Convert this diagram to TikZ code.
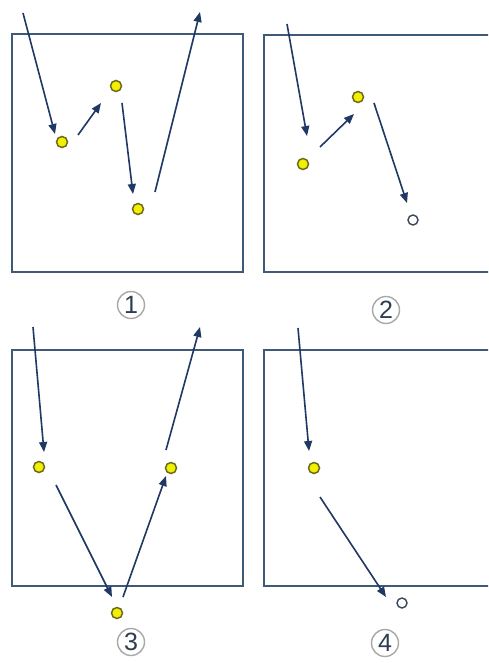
\documentclass[tikz,border=0pt]{standalone}
\usepackage{fontspec}
\setmainfont{Liberation Sans}
\usetikzlibrary{arrows.meta}
\definecolor{boxc}{HTML}{3E5A78}
\definecolor{arrc}{HTML}{1F3864}
\definecolor{dotfill}{HTML}{F0F000}
\definecolor{dotline}{HTML}{6E6A1E}
\definecolor{holline}{HTML}{3A4658}
\definecolor{numc}{HTML}{2E3D52}
\definecolor{ringc}{HTML}{A8A8A8}
\begin{document}
\begin{tikzpicture}[x=1pt,y=-1pt,
  panel/.style={draw=boxc, line width=1.8pt},
  ball/.style={circle, draw=dotline, fill=dotfill, line width=1.5pt, minimum size=11pt, inner sep=0pt},
  hollow/.style={circle, draw=holline, fill=white, line width=1.4pt, minimum size=10pt, inner sep=0pt},
  pass/.style={draw=arrc, line width=1.6pt, -{Triangle[length=10pt,width=8pt]}},
  num/.style={circle, draw=ringc, line width=1.4pt, text=numc, font=\fontsize{25}{25}\selectfont, minimum size=27pt, inner sep=0pt}]
\useasboundingbox (0,0) rectangle (488,663);
\clip (0,0) rectangle (488,663);
\fill[white] (0,0) rectangle (488,663);

% panels
\draw[panel] (12,34) rectangle (243,272);
\draw[panel] (264,35) rectangle (500,272);
\draw[panel] (12,350) rectangle (243,586);
\draw[panel] (264,350) rectangle (500,586);

% labels
\node[num] (n1) at (131,305) {1};
\node[num] (n2) at (386,310) {2};
\node[num] (n3) at (131,642) {3};
\node[num] (n4) at (385,643) {4};

% ---- panel 1
\node[ball] (a1) at (62,142) {};
\node[ball] (b1) at (116,86) {};
\node[ball] (c1) at (138,209) {};
\coordinate (i1s) at (23,13);   \coordinate (i1e) at (55,134);
\coordinate (ab1s) at (78,135); \coordinate (ab1e) at (101,103);
\coordinate (bc1s) at (122,103);\coordinate (bc1e) at (133,194);
\coordinate (o1s) at (155,192); \coordinate (o1e) at (200,12);
\draw[pass] (i1s) -- (i1e);
\draw[pass] (ab1s) -- (ab1e);
\draw[pass] (bc1s) -- (bc1e);
\draw[pass] (o1s) -- (o1e);

% ---- panel 2
\node[ball] (a2) at (303,164) {};
\node[ball] (b2) at (358,97) {};
\node[hollow] (c2) at (413,220) {};
\coordinate (i2s) at (287,24);  \coordinate (i2e) at (307,136);
\coordinate (ab2s) at (320,147);\coordinate (ab2e) at (354,114);
\coordinate (bc2s) at (374,103);\coordinate (bc2e) at (407,203);
\draw[pass] (i2s) -- (i2e);
\draw[pass] (ab2s) -- (ab2e);
\draw[pass] (bc2s) -- (bc2e);

% ---- panel 3
\node[ball] (a3) at (39,467) {};
\node[ball] (b3) at (171,468) {};
\node[ball] (c3) at (117,613) {};
\coordinate (i3s) at (33,327);  \coordinate (i3e) at (44,452);
\coordinate (ac3s) at (56,485); \coordinate (ac3e) at (112,597);
\coordinate (cb3s) at (123,597);\coordinate (cb3e) at (166,476);
\coordinate (o3s) at (166,450); \coordinate (o3e) at (200,327);
\draw[pass] (i3s) -- (i3e);
\draw[pass] (ac3s) -- (ac3e);
\draw[pass] (cb3s) -- (cb3e);
\draw[pass] (o3s) -- (o3e);

% ---- panel 4
\node[ball] (a4) at (314,468) {};
\node[hollow] (c4) at (402,603) {};
\coordinate (i4s) at (298,328); \coordinate (i4e) at (309,451);
\coordinate (ac4s) at (320,497);\coordinate (ac4e) at (386,597);
\draw[pass] (i4s) -- (i4e);
\draw[pass] (ac4s) -- (ac4e);
\end{tikzpicture}
\end{document}
